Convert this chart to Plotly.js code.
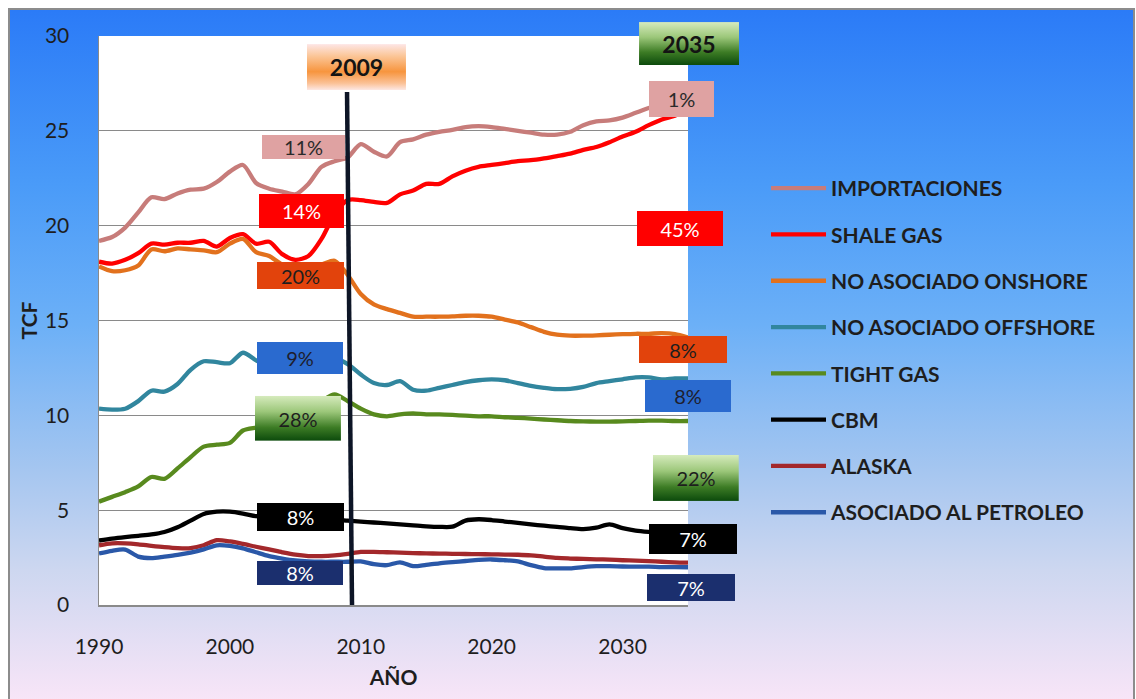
<!DOCTYPE html>
<html>
<head>
<meta charset="utf-8">
<script src="https://cdn.plot.ly/plotly-3.0.1.min.js"></script>
<style>
  html, body { margin: 0; padding: 0; background: #ffffff; overflow: hidden; }
  #frame {
    position: absolute; left: 8px; top: 8px; width: 1123px; height: 700px;
    border: 2px solid #8c8c8c; border-bottom: none;
    background: linear-gradient(to bottom, #2b7bf7 0%, #4a9bf8 25%, #6cb0f7 45%, #a3c5f0 65%, #cdd7f0 80%, #fbe6f8 100%);
  }
  #chart { position: absolute; left: 0; top: 0; width: 1136px; height: 699px; }
</style>
</head>
<body>
<div id="frame"></div>
<div id="chart"></div>
<script>
// Producción de gas natural en EE.UU. por fuente, 1990-2035 (TCF)
const years = [1990, 1991, 1992, 1993, 1994, 1995, 1996, 1997, 1998, 1999,
               2000, 2001, 2002, 2003, 2004, 2005, 2006, 2007, 2008, 2009,
               2010, 2011, 2012, 2013, 2014, 2015, 2016, 2017, 2018, 2019,
               2020, 2021, 2022, 2023, 2024, 2025, 2026, 2027, 2028, 2029,
               2030, 2031, 2032, 2033, 2034, 2035];

const importaciones = [19.2, 19.4, 19.9, 20.7, 21.5, 21.4, 21.7, 21.9, 21.95, 22.3,
                       22.85, 23.2, 22.25, 21.95, 21.8, 21.65, 22.2, 23.1, 23.4, 23.6,
                       24.3, 23.9, 23.65, 24.4, 24.55, 24.8, 24.95, 25.05, 25.2, 25.25,
                       25.2, 25.1, 25.0, 24.9, 24.8, 24.8, 24.95, 25.3, 25.5, 25.55,
                       25.7, 25.95, 26.2, 26.4, 26.5, 26.6];

const shaleGas = [18.1, 18.0, 18.2, 18.55, 19.05, 19.0, 19.1, 19.1, 19.2, 18.9,
                  19.35, 19.55, 19.05, 19.15, 18.5, 18.2, 18.4, 19.3, 20.6, 21.35,
                  21.35, 21.25, 21.2, 21.65, 21.85, 22.2, 22.2, 22.6, 22.9, 23.1,
                  23.2, 23.3, 23.4, 23.45, 23.55, 23.67, 23.8, 24.0, 24.15, 24.4,
                  24.7, 24.95, 25.3, 25.6, 25.8, 26.1];

const noAsociadoOnshore = [17.85, 17.6, 17.65, 17.9, 18.75, 18.65, 18.8, 18.75, 18.7, 18.6,
                           19.05, 19.3, 18.6, 18.4, 17.95, 17.85, 17.9, 17.95, 18.15, 17.4,
                           16.4, 15.85, 15.6, 15.4, 15.2, 15.2, 15.2, 15.22, 15.25, 15.25,
                           15.2, 15.05, 14.9, 14.65, 14.4, 14.25, 14.2, 14.2, 14.22, 14.25,
                           14.28, 14.3, 14.3, 14.33, 14.28, 14.1];

const noAsociadoOffshore = [10.35, 10.3, 10.35, 10.75, 11.3, 11.25, 11.65, 12.4, 12.85, 12.8,
                            12.75, 13.3, 12.9, 12.6, 12.7, 12.85, 12.95, 13.0, 13.0, 12.7,
                            12.15, 11.7, 11.6, 11.8, 11.35, 11.3, 11.45, 11.6, 11.75, 11.85,
                            11.9, 11.85, 11.7, 11.55, 11.45, 11.38, 11.4, 11.5, 11.7, 11.8,
                            11.9, 12.0, 12.0, 11.9, 11.95, 11.95];

const tightGas = [5.45, 5.7, 5.95, 6.25, 6.75, 6.65, 7.2, 7.8, 8.35, 8.45,
                  8.55, 9.2, 9.35, 9.45, 9.6, 9.9, 10.3, 10.75, 11.1, 10.75,
                  10.35, 10.05, 9.95, 10.05, 10.1, 10.05, 10.05, 10.02, 9.98, 9.95,
                  9.95, 9.9, 9.87, 9.83, 9.78, 9.74, 9.7, 9.68, 9.67, 9.67,
                  9.68, 9.7, 9.72, 9.72, 9.7, 9.7];

const cbm = [3.4, 3.5, 3.58, 3.65, 3.72, 3.85, 4.1, 4.45, 4.8, 4.92,
             4.92, 4.82, 4.68, 4.6, 4.55, 4.5, 4.5, 4.5, 4.5, 4.45,
             4.4, 4.35, 4.3, 4.25, 4.2, 4.15, 4.12, 4.13, 4.45, 4.52,
             4.48, 4.4, 4.33, 4.25, 4.18, 4.12, 4.05, 4.0, 4.08, 4.25,
             4.05, 3.92, 3.85, 3.8, 3.8, 3.8];

const alaska = [3.15, 3.25, 3.25, 3.2, 3.12, 3.05, 3.0, 3.0, 3.15, 3.42,
                3.35, 3.22, 3.07, 2.93, 2.78, 2.65, 2.58, 2.58, 2.62, 2.7,
                2.8, 2.8, 2.78, 2.76, 2.74, 2.72, 2.71, 2.7, 2.69, 2.68,
                2.67, 2.66, 2.65, 2.62, 2.55, 2.48, 2.45, 2.43, 2.41, 2.39,
                2.36, 2.34, 2.31, 2.28, 2.25, 2.23];

const asociadoPetroleo = [2.72, 2.86, 2.92, 2.55, 2.47, 2.55, 2.64, 2.76, 2.93, 3.15,
                          3.12, 2.99, 2.78, 2.58, 2.45, 2.35, 2.3, 2.28, 2.28, 2.28,
                          2.3, 2.15, 2.1, 2.25, 2.05, 2.12, 2.2, 2.26, 2.32, 2.38,
                          2.4, 2.36, 2.3, 2.1, 1.95, 1.93, 1.93, 2.0, 2.05, 2.05,
                          2.03, 2.02, 2.02, 2.0, 2.0, 1.99];

const seriesNames = ['IMPORTACIONES', 'SHALE GAS', 'NO ASOCIADO ONSHORE', 'NO ASOCIADO OFFSHORE',
                     'TIGHT GAS', 'CBM', 'ALASKA', 'ASOCIADO AL PETROLEO'];

// participación de cada fuente en 2009 y en 2035
const shares2009 = ['11%', '14%', '20%', '9%', '28%', '8%', '8%'];
const shares2035 = ['1%', '45%', '8%', '8%', '22%', '7%', '7%'];

const markerYears = ['2009', '2035'];

// ---------------------------------------------------------------
const seriesValues = [importaciones, shaleGas, noAsociadoOnshore, noAsociadoOffshore,
                      tightGas, cbm, alaska, asociadoPetroleo];
const lineColors = ['#c77c7a', '#ff0000', '#e2711d', '#31869e', '#588a1e', '#000000', '#a3282b', '#2a58a8'];

const FONT = 'Lato, "Open Sans", sans-serif';
const TXT = '#1e1e1e';

const traces = seriesNames.map((name, i) => ({
  type: 'scatter',
  mode: 'lines',
  name: name,
  legendgroup: name,
  x: years,
  y: seriesValues[i],
  line: { color: lineColors[i], width: 4.3, shape: 'spline', smoothing: 0.8 },
  hoverinfo: 'skip'
}));

const W = 1136, H = 699;
const M = { l: 99, r: 448, t: 36, b: 94 };
const plotW = W - M.l - M.r, plotH = H - M.t - M.b;
const X0 = 1990, X1 = 2035, Y0 = 0, Y1 = 30;
// year/value -> paper fraction (lets boxes sit beyond the axis range)
const px = yr => (yr - X0) / (X1 - X0);
const py = v => (v - Y0) / (Y1 - Y0);

// share boxes: [centre year, centre value, width px, height px, fill, text colour]
const boxes2009 = [
  [2005.62, 24.15, 83, 24, '#dfa2a2', '#2a2a2a'],
  [2005.47, 20.77, 85, 34, '#ff0000', '#ffffff'],
  [2005.39, 17.37, 87, 27, '#e2430c', '#1e1e1e'],
  [2005.36, 13.02, 86, 32, '#2a6acf', '#1e1e2e'],
  [2005.20, 9.84, 86, 45, null, '#1e1e1e'],
  [2005.39, 4.64, 87, 28, '#000000', '#ffffff'],
  [2005.36, 1.69, 86, 24, '#1b2f6e', '#ffffff']
];
const boxes2035 = [
  [2034.50, 26.68, 65, 36, '#dfa2a2', '#2a2a2a'],
  [2034.39, 19.85, 86, 35, '#ff0000', '#ffffff'],
  [2034.62, 13.47, 88, 27, '#e2430c', '#1e1e1e'],
  [2035.00, 11.02, 86, 32, '#2a6acf', '#1e1e2e'],
  [2035.60, 6.70, 86, 46, null, '#1e1e1e'],
  [2035.38, 3.48, 88, 30, '#000000', '#ffffff'],
  [2035.23, 0.92, 88, 27, '#1b2f6e', '#ffffff']
];
const yearBoxes = [
  [2009.67, 28.36, 99, 46, 'orange'],
  [2035.08, 29.60, 100, 43, 'green']
];

const gradients = {
  green: [[0, '#d6ebbd'], [0.35, '#9cc77a'], [0.7, '#3d7c25'], [1, '#0c4a0c']],
  orange: [[0, '#fde6e6'], [0.25, '#fbc79a'], [0.6, '#f7953e'], [0.85, '#fbc196'], [1, '#fde8e4']]
};

function gradientSource(stops) {
  const s = stops.map(([o, c]) => '<stop offset="' + o + '" stop-color="' + c + '"/>').join('');
  const svg = '<svg xmlns="http://www.w3.org/2000/svg" width="100" height="50" viewBox="0 0 100 50" preserveAspectRatio="none">' +
    '<defs><linearGradient id="g" x1="0" y1="0" x2="0" y2="1">' + s + '</linearGradient></defs>' +
    '<rect x="0" y="0" width="100" height="50" fill="url(#g)"/></svg>';
  return 'data:image/svg+xml;charset=utf-8,' + encodeURIComponent(svg);
}

const annotations = [];
const images = [];

function addBox(b, text, fontSize, bold, grad) {
  const [cx, cy, w, h, fill, color] = b;
  if (grad) {
    images.push({
      source: gradientSource(gradients[grad]),
      xref: 'paper', yref: 'paper', x: px(cx), y: py(cy),
      sizex: w / plotW, sizey: h / plotH, xanchor: 'center', yanchor: 'middle',
      sizing: 'stretch', layer: 'above'
    });
  }
  annotations.push({
    xref: 'paper', yref: 'paper', x: px(cx), y: py(cy), xanchor: 'center', yanchor: 'middle',
    text: text, showarrow: false, width: w, height: h, align: 'center', valign: 'middle',
    bgcolor: fill || 'rgba(0,0,0,0)', borderpad: 0, borderwidth: 0,
    font: { family: FONT, size: fontSize, color: color, weight: bold ? 'bold' : 'normal' }
  });
}

boxes2009.forEach((b, i) => addBox(b, shares2009[i], 20, false, b[4] ? null : 'green'));
boxes2035.forEach((b, i) => addBox(b, shares2035[i], 20, false, b[4] ? null : 'green'));
yearBoxes.forEach((b, i) => addBox([b[0], b[1], b[2], b[3], null, '#141414'], markerYears[i], 23, true, b[4]));

const layout = {
  width: W, height: H,
  margin: { l: M.l, r: M.r, t: M.t, b: M.b, pad: 0 },
  paper_bgcolor: 'rgba(0,0,0,0)',
  plot_bgcolor: '#ffffff',
  showlegend: true,
  xaxis: {
    range: [X0, X1], tick0: 1990, dtick: 10, showgrid: false, zeroline: false,
    showline: true, linecolor: '#8a8a8a', linewidth: 1.5, ticks: '',
    ticklabelstandoff: 22,
    tickfont: { family: FONT, size: 21, color: TXT },
    title: { text: 'AÑO', standoff: 13, font: { family: FONT, size: 21, color: TXT, weight: 'bold' } },
    fixedrange: true
  },
  yaxis: {
    range: [Y0, Y1], dtick: 5, showgrid: true, gridcolor: '#8a8a8a', gridwidth: 1.3, zeroline: false,
    showline: true, linecolor: '#8a8a8a', linewidth: 1.5, ticks: '',
    ticklabelstandoff: 24,
    tickfont: { family: FONT, size: 21, color: TXT },
    title: { text: 'TCF', standoff: 1, font: { family: FONT, size: 21, color: TXT, weight: 'bold' } },
    fixedrange: true
  },
  legend: {
    xref: 'paper', yref: 'paper', x: (766 - M.l) / plotW, y: (H - M.b - 168) / plotH,
    xanchor: 'left', yanchor: 'top', bgcolor: 'rgba(0,0,0,0)', borderwidth: 0,
    tracegroupgap: 16, itemwidth: 55,
    font: { family: FONT, size: 21, color: TXT, weight: 'bold' }
  },
  shapes: [{
    type: 'line', xref: 'x', yref: 'y', x0: 2008.95, y0: 27.05, x1: 2009.33, y1: 0,
    line: { color: '#0d1526', width: 4.5 }, layer: 'above'
  }],
  annotations: annotations,
  images: images
};

Plotly.newPlot('chart', traces, layout, { displayModeBar: false, staticPlot: true });
</script>
</body>
</html>
